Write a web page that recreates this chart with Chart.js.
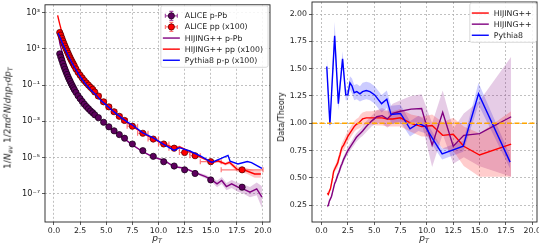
<!DOCTYPE html>
<html>
<head>
<meta charset="utf-8">
<script src="https://cdn.jsdelivr.net/npm/chart.js@4.4.0/dist/chart.umd.min.js"></script>
<style>
  body { margin: 0; background: #fff; width: 539px; height: 246px; overflow: hidden; position: relative;
         font-family: "DejaVu Sans", sans-serif; }
  canvas { position: absolute; top: 0; }
  #left { left: 0; }
  #right { left: 270px; }
  .lbl { position: absolute; font-size: 8px; color: #222; white-space: nowrap; line-height: 1; }
  .big { font-size: 9px; }
  .rot { transform: translate(-50%, -50%) rotate(-90deg); }
  .hor { transform: translate(-50%, 0); }
  .lbl sub { font-size: 70%; vertical-align: -0.3em; line-height: 0; }
  .lbl sup { font-size: 70%; vertical-align: 0.5em; line-height: 0; }
</style>
</head>
<body>
<canvas id="left" width="275" height="246"></canvas>
<canvas id="right" width="269" height="246"></canvas>
<div class="lbl big rot" style="left:8px; top:118px;">1/<i>N</i><sub><i>ev</i></sub> 1/2<i>πd</i><sup>2</sup><i>N</i>/<i>dηp</i><sub><i>T</i></sub><i>dp</i><sub><i>T</i></sub></div>
<div class="lbl big hor" style="left:157px; top:234px;"><i>p</i><sub><i>T</i></sub></div>
<div class="lbl rot" style="left:282px; top:117px;">Data/Theory</div>
<div class="lbl big hor" style="left:424px; top:234px;"><i>p</i><sub><i>T</i></sub></div>
<script>
// ALICE bin centres and half widths
const binPt = [0.55, 0.65, 0.75, 0.85, 0.95, 1.05, 1.15, 1.25, 1.35, 1.45, 1.55, 1.65, 1.75, 1.85, 1.95,
               2.1, 2.3, 2.5, 2.7, 2.9, 3.1, 3.3, 3.5, 3.7, 3.9,
               4.25, 4.75, 5.25, 5.75, 6.25, 6.75, 7.5, 8.5, 9.5, 10.5, 11.5, 12.5, 13.5, 15, 18];
const binHalf = [0.05, 0.05, 0.05, 0.05, 0.05, 0.05, 0.05, 0.05, 0.05, 0.05, 0.05, 0.05, 0.05, 0.05, 0.05,
                 0.1, 0.1, 0.1, 0.1, 0.1, 0.1, 0.1, 0.1, 0.1, 0.1,
                 0.25, 0.25, 0.25, 0.25, 0.25, 0.25, 0.5, 0.5, 0.5, 0.5, 0.5, 0.5, 0.5, 1, 2];

// spectra (left)
const alicePPb = [5.4, 3.55, 2.4, 1.58, 1.07, 0.76, 0.54, 0.39, 0.28, 0.21, 0.16, 0.12, 0.093, 0.072, 0.056,
                  0.040, 0.026, 0.018, 0.0126, 0.0089, 0.0066, 0.0050, 0.0038, 0.0030, 0.0023,
                  0.0016, 8.9e-4, 5.0e-4, 3.0e-4, 1.86e-4, 1.17e-4, 5.6e-5, 2.4e-5, 1.17e-5, 5.9e-6,
                  3.4e-6, 2.1e-6, 1.32e-6, 5.8e-7, 2.3e-7];
const alicePp = [81, 58, 40, 28, 20, 14.5, 10.5, 7.8, 5.8, 4.3, 3.2, 2.45, 1.9, 1.48, 1.15,
                 0.79, 0.52, 0.355, 0.25, 0.178, 0.132, 0.100, 0.076, 0.059, 0.042,
                 0.025, 0.012, 0.0063, 0.0034, 0.0019, 0.00112, 5.4e-4, 2.2e-4, 1.05e-4, 5.6e-5,
                 3.3e-5, 1.9e-5, 1.26e-5, 5.9e-6, 2.1e-6];

const hijPPbPt = [0.45, 0.55, 0.65, 0.75, 0.85, 0.95, 1.05, 1.25, 1.45, 1.65, 1.95, 2.3, 2.7, 3.1, 3.5, 3.9,
                  4.25, 4.75, 5.25, 5.75, 6.25, 6.75, 7.5, 8.5, 9.5, 10.5, 11.5, 12.5, 13.5, 14.5, 15.1,
                  15.6, 16.05, 16.5, 17.0, 17.6, 18.1, 18.75, 19.4, 19.9];
const hijPPb = [56, 22, 12.6, 7.6, 4.8, 3.0, 1.9, 0.83, 0.40, 0.20, 0.089, 0.038, 0.0166, 0.0079, 0.0042, 0.0025,
                0.0016, 8.7e-4, 4.8e-4, 2.75e-4, 1.78e-4, 1.07e-4, 5.0e-5, 2.1e-5, 1.05e-5, 7.1e-6, 3.1e-6,
                2.6e-6, 1.48e-6, 8.9e-7, 5.8e-7, 3.5e-7, 5.4e-7, 2.5e-7, 3.5e-7, 2.3e-7, 1.86e-7, 1.23e-7,
                1.86e-7, 6.6e-8];
// band half width in decades
const hijPPbBand = [0.02, 0.02, 0.02, 0.02, 0.02, 0.02, 0.02, 0.02, 0.02, 0.02, 0.02, 0.02, 0.02, 0.02, 0.02, 0.02,
                    0.02, 0.02, 0.02, 0.03, 0.03, 0.03, 0.03, 0.04, 0.04, 0.05, 0.05, 0.06, 0.06, 0.1, 0.12,
                    0.18, 0.2, 0.2, 0.22, 0.25, 0.25, 0.28, 0.35, 0.6];

const hijPpPt = [0.35, 0.45, 0.55, 0.65, 0.75, 0.85, 0.95, 1.05, 1.25, 1.45, 1.65, 1.95, 2.3, 2.7, 3.1, 3.5, 3.9,
                 4.25, 4.75, 5.25, 5.75, 6.25, 6.75, 7.5, 8.5, 9.5, 10.5, 11.5, 12.06, 13.0, 13.97, 15.15,
                 15.7, 16.4, 16.8, 17.5, 18.4, 19.2, 19.8];
const hijPp = [710, 400, 234, 141, 89, 60, 40, 29, 13.5, 6.9, 3.6, 1.48, 0.63, 0.28, 0.135, 0.076, 0.045,
               0.024, 0.0117, 0.006, 0.0032, 0.0018, 0.00107, 5.4e-4, 2.2e-4, 1.07e-4, 5.5e-5, 3.5e-5, 3.8e-5,
               2.1e-5, 1.1e-5, 5.4e-6, 6.6e-6, 4.4e-6, 5.4e-6, 2.3e-6, 1.86e-6, 1.23e-6, 1.23e-6];
const hijPpBand = [0.03, 0.03, 0.03, 0.03, 0.03, 0.03, 0.03, 0.03, 0.03, 0.03, 0.03, 0.03, 0.03, 0.03, 0.03, 0.03, 0.03,
                   0.03, 0.03, 0.03, 0.03, 0.03, 0.03, 0.03, 0.03, 0.03, 0.04, 0.04, 0.04, 0.05, 0.05, 0.08,
                   0.08, 0.08, 0.1, 0.15, 0.15, 0.2, 0.2];

const pythiaPt = [0.4, 0.6, 0.8, 1.0, 1.25, 1.5, 1.75, 2.0, 2.5, 3.0, 3.5, 4.0, 4.5, 5.0, 5.5, 6.0, 6.5, 7.0,
                  7.5, 8.5, 9.5, 10.5, 11.5, 12.0, 13.0, 14.0, 15.1, 16.0, 16.65, 16.85, 17.6, 18.5, 18.9, 19.9];
const pythia = [74, 40, 21, 11.7, 5.8, 3.0, 1.58, 0.89, 0.30, 0.12, 0.056, 0.030, 0.014, 0.0079, 0.0044, 0.0025,
                0.0015, 9.3e-4, 6.3e-4, 2.3e-4, 1.23e-4, 5.4e-5, 2.5e-5, 3.5e-5, 2.3e-5, 1.23e-5, 5.4e-6,
                8.9e-6, 1.32e-5, 6.3e-6, 4.4e-6, 6.0e-6, 5.2e-6, 2.5e-6];

// ratios (right)
const ratioPp = [0.36, 0.35, 0.38, 0.40, 0.45, 0.50, 0.56, 0.58, 0.60, 0.62, 0.64, 0.68, 0.71, 0.75, 0.78,
                 0.80, 0.84, 0.88, 0.91, 0.94, 0.97, 0.99, 1.00, 1.02, 1.04,
                 1.05, 1.05, 1.05, 1.05, 1.04, 1.04, 1.05, 1.00, 0.97, 0.98, 0.89, 0.90, 0.79, 0.71, 0.81];
const ratioPpErr = [0.02, 0.02, 0.02, 0.02, 0.03, 0.03, 0.03, 0.03, 0.03, 0.04, 0.04, 0.04, 0.04, 0.04, 0.04,
                    0.05, 0.05, 0.05, 0.05, 0.05, 0.05, 0.05, 0.05, 0.06, 0.06,
                    0.06, 0.06, 0.07, 0.07, 0.07, 0.07, 0.08, 0.08, 0.09, 0.1, 0.12, 0.15, 0.18, 0.2, 0.3];
const ratioPPb = [0.24, 0.25, 0.29, 0.31, 0.33, 0.37, 0.41, 0.45, 0.47, 0.50, 0.53, 0.55, 0.58, 0.61, 0.63,
                  0.67, 0.71, 0.75, 0.78, 0.81, 0.84, 0.87, 0.89, 0.91, 0.93,
                  0.97, 1.02, 1.06, 1.07, 1.04, 1.09, 1.11, 1.13, 1.135, 0.80, 1.10, 0.79, 0.89, 0.906, 1.06];
const ratioPPbErr = [0.015, 0.015, 0.015, 0.02, 0.02, 0.02, 0.02, 0.02, 0.02, 0.025, 0.025, 0.025, 0.03, 0.03, 0.03,
                     0.03, 0.03, 0.035, 0.035, 0.035, 0.04, 0.04, 0.04, 0.04, 0.045,
                     0.05, 0.05, 0.06, 0.07, 0.08, 0.09, 0.1, 0.12, 0.13, 0.2, 0.2, 0.16, 0.2, 0.3, 0.55];
const ratioPyPt = [0.5, 0.8, 1.25, 1.6, 2.0, 2.3, 2.5, 2.7, 2.9, 3.1, 3.35, 3.65, 3.9, 4.25, 4.6, 5.05, 5.7,
                   6.2, 6.6, 7.5, 8.4, 9.2, 9.85, 10.6, 11.45, 13.45, 14.9, 17.9];
const ratioPy = [1.52, 0.99, 1.80, 1.18, 1.59, 1.26, 1.26, 1.37, 1.34, 1.28, 1.29, 1.27, 1.29, 1.30, 1.29, 1.26,
                 1.18, 1.22, 1.08, 1.09, 0.95, 1.00, 0.97, 0.85, 0.72, 0.79, 1.27, 0.645];
const ratioPyErr = [0.11, 0.05, 0.13, 0.06, 0.07, 0.05, 0.05, 0.06, 0.07, 0.07, 0.07, 0.07, 0.08, 0.08, 0.08, 0.08,
                    0.08, 0.08, 0.08, 0.08, 0.07, 0.07, 0.06, 0.06, 0.05, 0.05, 0.1, 0.06];

const leftXTicks = [0, 2.5, 5, 7.5, 10, 12.5, 15, 17.5, 20];
const leftYTicks = [1e-7, 1e-5, 1e-3, 1e-1, 1e1, 1e3];
const rightYTicks = [0.25, 0.5, 0.75, 1.0, 1.25, 1.5, 1.75, 2.0];
const unity = 1.0;

const RED = '#ff0000', PURPLE = '#800080', BLUE = '#0000ff';
const FONT = '7.8px "DejaVu Sans", sans-serif';

Chart.defaults.font.family = '"DejaVu Sans", sans-serif';
Chart.defaults.font.size = 7.8;
Chart.defaults.color = '#222';
Chart.defaults.animation = false;

const pts = (xs, ys) => xs.map((x, i) => ({ x, y: ys[i] }));
const logBand = (xs, ys, e, sign) => xs.map((x, i) => ({ x, y: ys[i] * Math.pow(10, sign * e[i]) }));
const linBand = (xs, ys, e, sign) => xs.map((x, i) => ({ x, y: ys[i] + sign * e[i] }));

function line(data, color, order) {
  return { data, showLine: true, borderColor: color, borderWidth: 1.4, pointRadius: 0, fill: false, order };
}
function band(upper, lower, color) {
  return [
    { data: upper, showLine: true, borderWidth: 0, pointRadius: 0, fill: false, order: 3 },
    { data: lower, showLine: true, borderWidth: 0, pointRadius: 0, fill: '-1', backgroundColor: color, order: 3 }
  ];
}
function markers(data, color, edge, order) {
  return { data, showLine: false, pointRadius: 3.1, backgroundColor: color,
           borderColor: edge, borderWidth: 0.8, order };
}

const gridOpts = { color: '#b0b0b0', lineWidth: 0.8, tickColor: '#333', tickLength: 3,
                   tickWidth: 0.8, tickBorderDash: [] };
const borderOpts = { display: false, dash: [2, 2] };
const fixTicks = list => s => { s.ticks = list.map(v => ({ value: v })); };
const noPad = w => s => { if (w.width) s.width = w.width; if (w.height) s.height = w.height;
                          s.paddingLeft = s.paddingRight = s.paddingTop = s.paddingBottom = 0; };

// matplotlib-like box around the axes
const framePlugin = {
  id: 'frame',
  afterDraw(chart) {
    const { ctx, chartArea: a } = chart;
    ctx.save();
    ctx.strokeStyle = '#222';
    ctx.lineWidth = 0.9;
    ctx.strokeRect(a.left, a.top, a.right - a.left, a.bottom - a.top);
    ctx.restore();
  }
};

// horizontal error bars of the pp data
const xErrPlugin = {
  id: 'xErr',
  beforeDatasetsDraw(chart, args, opts) {
    if (!opts.on) return;
    const { ctx, scales: { x, y } } = chart;
    ctx.save();
    ctx.strokeStyle = 'rgba(255,30,30,0.6)';
    ctx.lineWidth = 1.2;
    binPt.forEach((p, i) => {
      const yy = y.getPixelForValue(alicePp[i]);
      const x1 = x.getPixelForValue(p - binHalf[i]), x2 = x.getPixelForValue(p + binHalf[i]);
      ctx.beginPath();
      ctx.moveTo(x1, yy); ctx.lineTo(x2, yy);
      ctx.moveTo(x1, yy - 2.5); ctx.lineTo(x1, yy + 2.5);
      ctx.moveTo(x2, yy - 2.5); ctx.lineTo(x2, yy + 2.5);
      ctx.stroke();
    });
    ctx.restore();
  }
};

// dashed orange line at ratio 1
const unityPlugin = {
  id: 'unity',
  afterDatasetsDraw(chart, args, opts) {
    if (!opts.on) return;
    const { ctx, chartArea: a, scales: { y } } = chart;
    const yy = y.getPixelForValue(unity);
    ctx.save();
    ctx.strokeStyle = '#ffa500';
    ctx.lineWidth = 1.5;
    ctx.setLineDash([5, 2.5]);
    ctx.beginPath(); ctx.moveTo(a.left, yy); ctx.lineTo(a.right, yy); ctx.stroke();
    ctx.restore();
  }
};

// legend drawn inside the axes, upper right
const legendPlugin = {
  id: 'mplLegend',
  afterDraw(chart, args, opts) {
    const { ctx, chartArea: a } = chart;
    const items = opts.items;
    ctx.save();
    ctx.font = FONT;
    const rowH = 11.1;
    const tw = Math.max(...items.map(it => ctx.measureText(it.text).width));
    const w = 24 + tw + 5, h = 4.5 + items.length * rowH + 1.5;
    const x0 = a.right - opts.inset - w, y0 = a.top + 1;
    ctx.beginPath();
    ctx.roundRect(x0, y0, w, h, 2);
    ctx.fillStyle = 'rgba(255,255,255,0.85)';
    ctx.fill();
    ctx.strokeStyle = '#d0d0d0';
    ctx.lineWidth = 0.8;
    ctx.stroke();
    items.forEach((it, i) => {
      const cy = y0 + 4.5 + rowH * (i + 0.5);
      if (it.kind === 'line') {
        ctx.strokeStyle = it.color;
        ctx.lineWidth = 1.4;
        ctx.beginPath(); ctx.moveTo(x0 + 2, cy); ctx.lineTo(x0 + 19, cy); ctx.stroke();
      } else {
        const cx = x0 + 10.5;
        ctx.strokeStyle = it.bar;
        ctx.lineWidth = 1.2;
        ctx.beginPath();
        ctx.moveTo(cx - 6, cy); ctx.lineTo(cx + 6, cy);
        ctx.moveTo(cx, cy - 4.5); ctx.lineTo(cx, cy + 4.5);
        ctx.moveTo(cx - 6, cy - 2); ctx.lineTo(cx - 6, cy + 2);
        ctx.moveTo(cx + 6, cy - 2); ctx.lineTo(cx + 6, cy + 2);
        ctx.moveTo(cx - 2, cy - 4.5); ctx.lineTo(cx + 2, cy - 4.5);
        ctx.moveTo(cx - 2, cy + 4.5); ctx.lineTo(cx + 2, cy + 4.5);
        ctx.stroke();
        ctx.beginPath(); ctx.arc(cx, cy, 3.1, 0, Math.PI * 2);
        ctx.fillStyle = it.color; ctx.fill();
        ctx.strokeStyle = it.edge; ctx.lineWidth = 0.8; ctx.stroke();
      }
      ctx.fillStyle = '#222';
      ctx.textBaseline = 'middle';
      ctx.fillText(it.text, x0 + 24, cy + 0.5);
    });
    ctx.restore();
  }
};

const sup = { '-': '\u207b', '1': '\u00b9', '3': '\u00b3', '5': '\u2075', '7': '\u2077' };
const powLabel = v => '10' + String(Math.round(Math.log10(v))).split('').map(c => sup[c]).join('');

const DARK_PURPLE = '#5e005e', PURPLE_EDGE = '#1a001a', RED_EDGE = '#5a0000';

new Chart(document.getElementById('left'), {
  type: 'scatter',
  data: {
    datasets: [
      line(pts(pythiaPt, pythia), BLUE, 0),
      markers(pts(binPt, alicePPb), DARK_PURPLE, PURPLE_EDGE, 1),
      markers(pts(binPt, alicePp), RED, RED_EDGE, 1),
      line(pts(hijPPbPt, hijPPb), PURPLE, 2),
      line(pts(hijPpPt, hijPp), RED, 2),
      ...band(logBand(hijPPbPt, hijPPb, hijPPbBand, 1), logBand(hijPPbPt, hijPPb, hijPPbBand, -1), 'rgba(128,0,128,0.22)'),
      ...band(logBand(hijPpPt, hijPp, hijPpBand, 1), logBand(hijPpPt, hijPp, hijPpBand, -1), 'rgba(255,0,0,0.22)')
    ]
  },
  options: {
    responsive: false,
    layout: { padding: { top: 2, right: 5, left: 0, bottom: 0 } },
    plugins: { legend: { display: false }, tooltip: { enabled: false },
      xErr: { on: true }, unity: { on: false },
      mplLegend: { inset: 2, items: [
        { kind: 'err', color: DARK_PURPLE, edge: PURPLE_EDGE, bar: 'rgba(128,0,128,0.7)', text: 'ALICE p-Pb' },
        { kind: 'err', color: RED, edge: RED_EDGE, bar: 'rgba(255,30,30,0.6)', text: 'ALICE pp (x100)' },
        { kind: 'line', color: PURPLE, text: 'HIJING++ p-Pb' },
        { kind: 'line', color: RED, text: 'HIJING++ pp (x100)' },
        { kind: 'line', color: BLUE, text: 'Pythia8 p-p (x100)' }
      ] } },
    scales: {
      x: { type: 'linear', min: -0.86, max: 20.67, grid: gridOpts, border: borderOpts,
           afterBuildTicks: fixTicks(leftXTicks), afterFit: noPad({ height: 24 }),
           ticks: { padding: 1, maxRotation: 0, autoSkip: false, callback: v => v.toFixed(1) } },
      y: { type: 'logarithmic', min: 2.75e-9, max: 2.75e3, grid: gridOpts, border: borderOpts,
           afterBuildTicks: fixTicks(leftYTicks), afterFit: noPad({ width: 45 }),
           ticks: { padding: 2, autoSkip: false, font: { size: 8.2 }, callback: v => powLabel(v) } }
    }
  },
  plugins: [framePlugin, xErrPlugin, unityPlugin, legendPlugin]
});

new Chart(document.getElementById('right'), {
  type: 'scatter',
  data: {
    datasets: [
      line(pts(ratioPyPt, ratioPy), BLUE, 0),
      line(pts(binPt, ratioPPb), PURPLE, 1),
      line(pts(binPt, ratioPp), RED, 2),
      ...band(linBand(binPt, ratioPp, ratioPpErr, 1), linBand(binPt, ratioPp, ratioPpErr, -1), 'rgba(255,0,0,0.2)'),
      ...band(linBand(binPt, ratioPPb, ratioPPbErr, 1), linBand(binPt, ratioPPb, ratioPPbErr, -1), 'rgba(128,0,128,0.2)'),
      ...band(linBand(ratioPyPt, ratioPy, ratioPyErr, 1), linBand(ratioPyPt, ratioPy, ratioPyErr, -1), 'rgba(0,0,255,0.2)')
    ]
  },
  options: {
    responsive: false,
    layout: { padding: { top: 2, right: 2, left: 0, bottom: 0 } },
    plugins: { legend: { display: false }, tooltip: { enabled: false },
      xErr: { on: false }, unity: { on: true },
      mplLegend: { inset: 0.5, items: [
        { kind: 'line', color: RED, text: 'HIJING++' },
        { kind: 'line', color: PURPLE, text: 'HIJING++' },
        { kind: 'line', color: BLUE, text: 'Pythia8' }
      ] } },
    scales: {
      x: { type: 'linear', min: -0.9, max: 20.45, grid: gridOpts, border: borderOpts,
           afterBuildTicks: fixTicks(leftXTicks), afterFit: noPad({ height: 24 }),
           ticks: { padding: 1, maxRotation: 0, autoSkip: false, callback: v => v.toFixed(1) } },
      y: { type: 'linear', min: 0.097, max: 2.11, grid: gridOpts, border: borderOpts,
           afterBuildTicks: fixTicks(rightYTicks), afterFit: noPad({ width: 42 }),
           ticks: { padding: 2, autoSkip: false, callback: v => v.toFixed(2) } }
    }
  },
  plugins: [framePlugin, xErrPlugin, unityPlugin, legendPlugin]
});
</script>
</body>
</html>
